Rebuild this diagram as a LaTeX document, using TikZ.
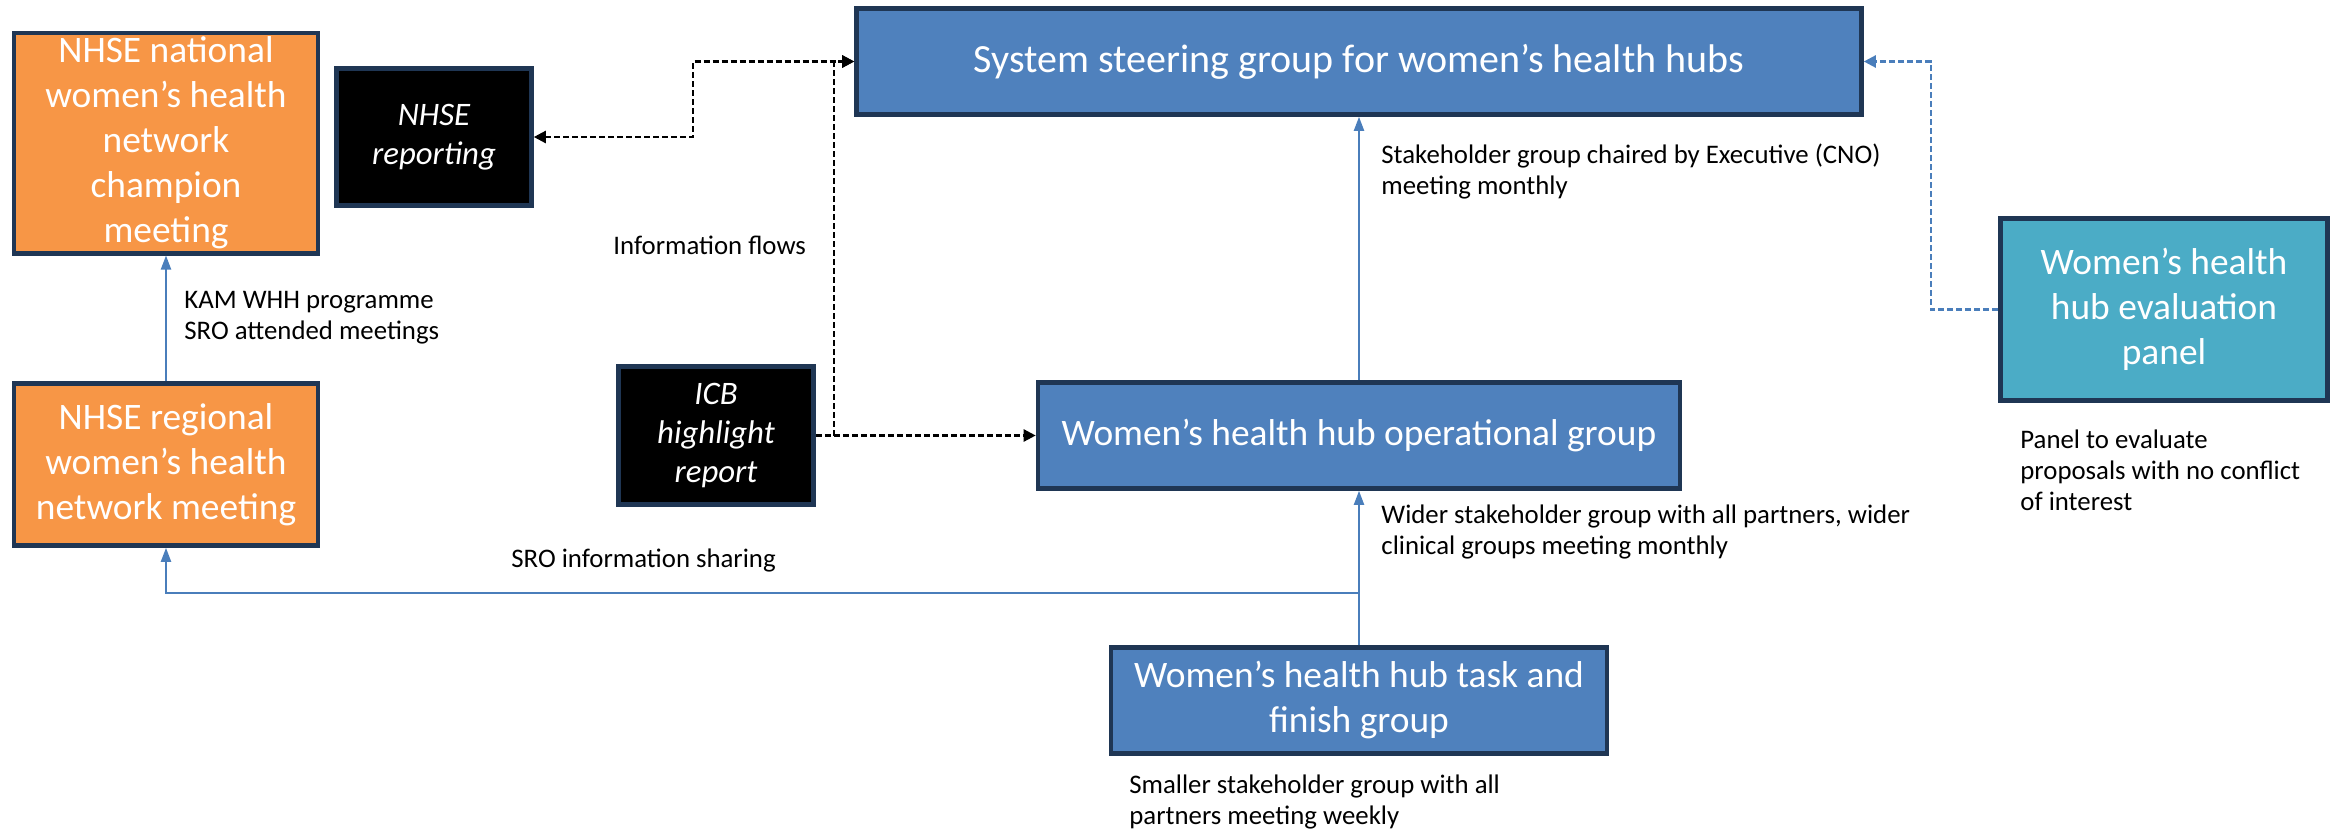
\documentclass[tikz,border=0pt]{standalone}
\usepackage{fontspec}
\setmainfont{Carlito}
\usetikzlibrary{arrows.meta}
\definecolor{boxline}{HTML}{1F3654}
\definecolor{nhseorange}{HTML}{F79646}
\definecolor{hubblue}{HTML}{4F81BD}
\definecolor{panelteal}{HTML}{4BACC6}
\definecolor{flowblue}{HTML}{4A7EBB}
\begin{document}
\begin{tikzpicture}[x=0.5pt,y=-0.5pt,
    box/.style={draw=boxline, line width=2.3pt, text=white, align=center, inner sep=2pt,
        font=\fontsize{18.7}{22.5}\selectfont},
    orangebox/.style={box, fill=nhseorange},
    bluebox/.style={box, fill=hubblue},
    tealbox/.style={box, fill=panelteal},
    reportbox/.style={box, fill=black, font=\fontsize{16.4}{19.5}\selectfont\itshape},
    note/.style={anchor=west, align=left, inner sep=0pt, font=\fontsize{13.4}{15.5}\selectfont},
    flow/.style={draw=flowblue, line width=1pt, -{Triangle[length=7pt,width=5pt]}},
    info/.style={black, line width=1.2pt, dash pattern=on 3pt off 1.5pt, -{Triangle[length=6pt,width=6pt]}},
    infoboth/.style={info, {Triangle[length=6pt,width=6pt]}-{Triangle[length=6pt,width=6pt]}},
    panelflow/.style={draw=flowblue, line width=1.2pt, dash pattern=on 3pt off 1.5pt, -{Triangle[length=6pt,width=6pt]}}]

    \useasboundingbox (0,0) rectangle (2334,830);

    % Draw the NHSE meetings on the left
    \node[orangebox, minimum width=152pt, minimum height=108.5pt] (national) at (166,143) {NHSE national\\women’s health\\network\\champion\\meeting};
    \node[orangebox, minimum width=152pt, minimum height=81pt] (regional) at (166,464.5) {NHSE regional\\women’s health\\network meeting};

    % Draw the two reports
    \node[reportbox, minimum width=97.5pt, minimum height=68.5pt] (reporting) at (434,137) {NHSE\\reporting};
    \node[reportbox, minimum width=97.5pt, minimum height=69pt] (icb) at (716,435.5) {ICB\\highlight\\report};

    % Draw the hub groups
    \node[bluebox, minimum width=502.5pt, minimum height=53pt, font=\fontsize{20}{24}\selectfont] (steering) at (1359,61.5) {System steering group for women’s health hubs};
    \node[bluebox, minimum width=321pt, minimum height=53pt] (operational) at (1359,435.5) {Women’s health hub operational group};
    \node[bluebox, minimum width=248pt, minimum height=53pt] (task) at (1359,700.5) {Women’s health hub task and\\finish group};
    \node[tealbox, minimum width=163.5pt, minimum height=91pt] (panel) at (2164,309.5) {Women’s health\\hub evaluation\\panel};

    % Corners of the connectors
    \coordinate (reportknee) at (693,61.5);
    \coordinate (icbjoin) at (834,435.5);
    \coordinate (split) at (1359,593);
    \coordinate (panelknee) at (1931,61.5);

    % Draw the reporting lines
    \draw[flow] (regional) -- (national);
    \draw[flow] (task) -- (operational);
    \draw[flow] (operational) -- (steering);
    \draw[flow] (split) -| (regional);

    % Draw the information flows
    \draw[info] (icb) -- (operational);
    \draw[info] (icbjoin) |- (steering);
    \draw[infoboth] (reporting) -| (reportknee) -- (steering);
    \draw[panelflow] (panel) -| (panelknee) -- (steering);

    % Notes
    \node[note] (kamnote) at (184,317.5) {KAM WHH programme\\SRO attended meetings};
    \node[note] (flownote) at (613,245) {Information flows};
    \node[note] (sronote) at (511,560) {SRO information sharing};
    \node[note] (cnonote) at (1381,171.5) {Stakeholder group chaired by Executive (CNO)\\meeting monthly};
    \node[note] (widernote) at (1381,531.5) {Wider stakeholder group with all partners, wider\\clinical groups meeting monthly};
    \node[note] (smallnote) at (1129,801.5) {Smaller stakeholder group with all\\partners meeting weekly};
    \node[note] (panelnote) at (2020,470) {Panel to evaluate\\proposals with no conflict\\of interest};
\end{tikzpicture}
\end{document}
